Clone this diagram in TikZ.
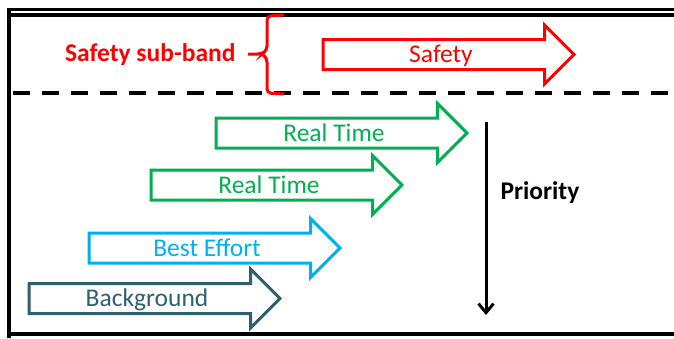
\documentclass[tikz,border=0pt]{standalone}
\usepackage{fontspec}
\setmainfont{Carlito}
\usetikzlibrary{shapes.arrows,arrows.meta}

\definecolor{bgteal}{RGB}{46,96,112}
\definecolor{rtgreen}{RGB}{0,176,80}
\definecolor{beblue}{RGB}{0,176,240}

\tikzset{
  band/.style={single arrow, draw, line width=3pt, minimum height=251pt,
    single arrow head extend=14.5pt, single arrow tip angle=90,
    inner ysep=0pt, text height=21.9pt, text depth=5.1pt, anchor=tail,
    font=\fontsize{25.5}{29}\selectfont},
  frameline/.style={line width=4pt},
  label/.style={font=\fontsize{25.5}{29}\selectfont\bfseries}
}

\begin{document}
\begin{tikzpicture}[x=1pt,y=-1pt]
            \useasboundingbox (0,0) rectangle (674,338);

            % Frame and sub-band separator
            \draw[line width=3pt] (7,9.5) -- (674,9.5);
            \draw[frameline] (11,15) -- (674,15);
            \draw[frameline] (9,8) -- (9,338);
            \draw[frameline] (11,334) -- (674,334);
            \draw[frameline, dash pattern=on 17pt off 12pt] (13,93) -- (674,93);

            % Safety sub-band
            \node[label, red, anchor=base east] (sub) at (239,61) {Safety sub-band};
            \draw[red, line width=3pt, rounded corners=4pt]
              (284,15) -- (267,16) -- (267,50) -- (262,54) -- (248,54)
              (262,54) -- (267,58) -- (267,93) -- (284,94);

            % Traffic classes
            \node[band, draw=red, text=red] (safety) at (321.5,54.5) {Safety};
            \node[band, draw=rtgreen, text=rtgreen] (rt1) at (214.5,133) {Real Time};
            \node[band, draw=rtgreen, text=rtgreen] (rt2) at (149.5,185) {Real Time};
            \node[band, draw=beblue, text=beblue] (be) at (87.5,248) {Best Effort};
            \node[band, draw=bgteal, text=bgteal] (bg) at (27.5,298.5) {Background};

            % Priority
            \coordinate (ptop) at (486,122);
            \coordinate (pbot) at (486,315);
            \draw[-{Straight Barb[length=9pt,width=15pt,line width=3pt]}, line width=3pt] (ptop) -- (pbot);
            \node[label, anchor=base west] (prio) at (497,199) {Priority};

            \end{tikzpicture}
\end{document}
